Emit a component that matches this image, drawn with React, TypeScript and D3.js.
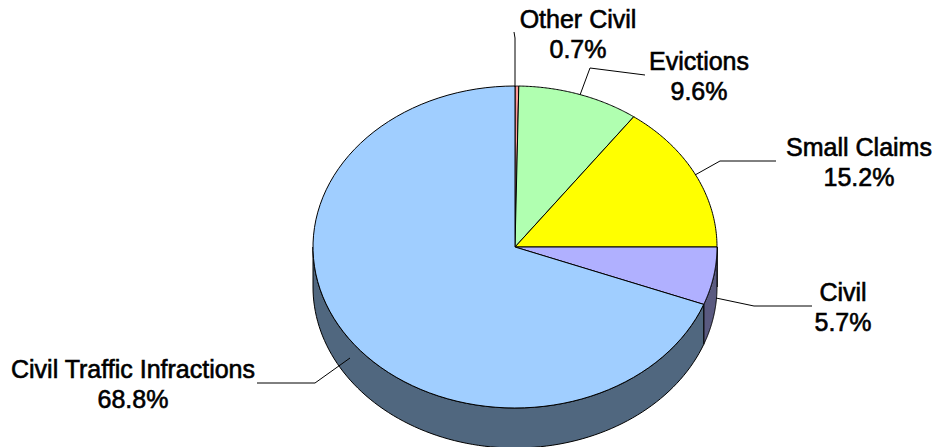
import React from "react";
import * as d3 from "d3";

const categories = ["Other Civil", "Evictions", "Small Claims", "Civil", "Civil Traffic Infractions"];
// Percentages printed in the labels
const shares = [0.7, 9.6, 15.2, 5.7, 68.8];
const drawnShares = [0.3, 9.7, 15.0, 5.8, 69.2];
const topColors = ["#FF9999", "#B0FFB0", "#FFFF00", "#B0B0FF", "#A0CEFF"];
const sideColors = ["#805050", "#587F58", "#808000", "#5A5A80", "#50677F"];
const labelCenters = [[578, 28], [699, 70], [859, 156], [843, 301], [133, 378]];
const leaders = [
  [[514, 32], [515, 38], [515, 87]],
  [[645, 75], [590, 68], [580, 95]],
  [[776, 161], [720, 161], [695, 175]],
  [[812, 306], [754, 306], [716, 298]],
  [[257, 383], [315, 383], [350, 358]],
];

const cx = 515, cy = 247, rx = 202, ry = 161, depth = 40;
const px = (a: number) => cx + rx * Math.sin(a);
const py = (a: number) => cy - ry * Math.cos(a);

function arcPath(a0: number, a1: number, dy = 0, reverse = false) {
  const n = 90;
  const t = d3.range(n + 1).map((i) => a0 + ((a1 - a0) * i) / n);
  const pts = t.map((a) => [px(a), py(a) + dy]);
  if (reverse) pts.reverse();
  return pts.map((p) => `${p[0]},${p[1]}`).join(" L");
}

export default function App() {
  const pie = d3.pie<number>().sort(null).startAngle(0).endAngle(2 * Math.PI);
  const arcs = pie(drawnShares);
  const line = d3.line();
  const sideOrder = arcs.map((d, i) => ({ d, i })).filter(({ d }) => d.endAngle > Math.PI / 2 && d.startAngle < 1.5 * Math.PI);
  return (
    <svg width={935} height={447} style={{ position: "absolute", left: 0, top: 0, display: "block" }}>
      <rect width={935} height={447} fill="#fff" />
      {sideOrder.map(({ d, i }) => {
        const a0 = Math.max(d.startAngle, Math.PI / 2);
        const a1 = Math.min(d.endAngle, 1.5 * Math.PI);
        return (
          <path key={i} d={`M${arcPath(a0, a1)} L${arcPath(a0, a1, depth, true)} Z`}
            fill={sideColors[i]} stroke="#000" strokeWidth={1} strokeLinejoin="round" />
        );
      })}
      {arcs.map((d, i) => (
        <path key={i} d={`M${cx},${cy} L${arcPath(d.startAngle, d.endAngle)} Z`}
          fill={topColors[i]} stroke="#000" strokeWidth={1} strokeLinejoin="round" />
      ))}
      {leaders.map((l, i) => (
        <path key={i} d={line(l as [number, number][]) ?? ""} fill="none" stroke="#000" strokeWidth={1} />
      ))}
      {categories.map((c, i) => (
        <text key={c} x={labelCenters[i][0]} y={labelCenters[i][1]} textAnchor="middle"
          fontFamily="Liberation Sans, Arial, sans-serif" fontSize={25} fill="#000" stroke="#000" strokeWidth={0.6}>
          <tspan x={labelCenters[i][0]} dy={0}>{c}</tspan>
          <tspan x={labelCenters[i][0]} dy={30}>{shares[i].toFixed(1)}%</tspan>
        </text>
      ))}
    </svg>
  );
}
